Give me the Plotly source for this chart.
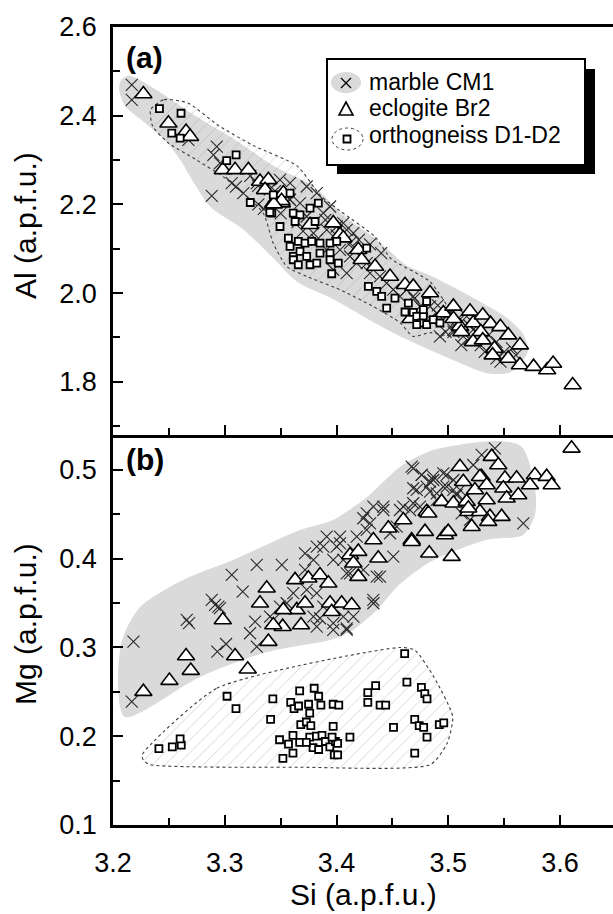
import plotly.graph_objects as go

# ---------------- data: panel (a) Si vs Al ----------------
si_marble_a = [3.2167,3.2167,3.2674,3.2928,3.2898,3.2957,3.3062,3.2883,3.3166,3.3286,3.3228,3.3298,3.3403,3.3438,3.3578,
               3.3494,3.3733,3.3584,3.3823,3.3584,3.3673,3.3733,3.3882,3.3942,3.3912,3.4002,3.4061,3.4091,3.4151,3.4031,
               3.4121,3.3912,3.3823,3.3793,3.4121,3.4210,3.4270,3.4180,3.3971,3.4091,3.4300,3.4389,3.4449,3.4508,3.4568,
               3.4628,3.4687,3.4747,3.4837,3.4897,3.4986,3.5076,3.5165,3.5224,3.5135,3.5046,3.4926,3.4697,3.4767,3.4907,
               3.5012,3.5082,3.5187,3.5256,3.5362,3.5432,3.5502,3.5432,3.5291,3.5187,3.5117,3.5047,3.4837,3.5571,3.5467,
               3.5327,3.5606,3.4977,3.4300,3.4400,3.4200,3.3350,3.3500,3.3650,3.3700,3.3450,3.4000,3.4150,3.3900,3.3300,3.3100]
al_marble_a = [2.4694,2.4356,2.3455,2.3304,2.3117,2.2930,2.2480,2.2194,2.2255,2.2480,2.2644,2.2419,2.2342,2.2194,2.2120,
               2.2554,2.2404,2.2480,2.2255,2.2104,2.2029,2.1728,2.1804,2.1953,2.1428,2.1502,2.1579,2.1428,2.1353,2.0977,
               2.1128,2.0977,2.1203,2.1353,2.0827,2.0827,2.0678,2.0678,2.0527,2.0453,2.0453,2.0376,2.0227,2.0077,1.9925,
               2.0077,1.9925,1.9700,1.9700,1.9551,1.9475,1.9401,1.9475,1.9176,1.9025,1.9176,1.9025,1.9874,1.9649,1.9725,
               1.9574,1.9349,1.9275,1.9126,1.9052,1.8901,1.8676,1.8527,1.8827,1.8975,1.8827,1.9126,1.9423,1.8752,1.8453,
               1.8676,1.8601,1.9126,2.1100,2.0900,2.1200,2.1900,2.1800,2.1600,2.1400,2.2300,2.1300,2.1000,2.1650,2.2000,2.2400]

si_eclogite_a = [3.2271,3.2495,3.2653,3.2689,3.2982,3.3092,3.3211,3.3315,3.3390,3.3360,3.3524,3.3510,3.3434,3.3763,3.3971,
                 3.4031,3.4061,3.4195,3.4225,3.4345,3.4479,3.4613,3.4687,3.4837,3.4956,3.5046,3.5195,3.5105,3.5224,3.5309,
                 3.5379,3.5467,3.5117,3.5291,3.5222,3.5309,3.5537,3.5642,3.5414,3.5537,3.5397,3.5642,3.5764,3.5886,3.5939,
                 3.6114,3.5047,3.4662,3.3508,3.3438]
al_eclogite_a = [2.4491,2.3831,2.3642,2.3529,2.2779,2.2779,2.2779,2.2516,2.2554,2.2329,2.2255,2.2029,2.2029,2.1541,2.1579,
                 2.1315,2.1241,2.0977,2.0752,2.0601,2.0376,2.0189,2.0151,2.0002,1.9551,1.9700,1.9588,1.9250,1.9326,1.9500,
                 1.9311,1.9239,1.9126,1.9126,1.8901,1.8939,1.9052,1.8827,1.8752,1.8527,1.8601,1.8378,1.8342,1.8266,1.8414,
                 1.7928,1.9423,1.9423,2.2081,2.2007]

si_ortho_a = [3.2415,3.2608,3.2525,3.2600,3.3017,3.3101,3.3434,3.3584,3.3837,3.3420,3.3494,3.3613,3.3673,3.3629,3.3763,
              3.3808,3.3569,3.3584,3.3658,3.3718,3.3778,3.3852,3.3942,3.4002,3.3613,3.3673,3.3733,3.3852,3.3942,3.3613,
              3.3658,3.3763,3.3823,3.3942,3.4016,3.3957,3.4270,3.4285,3.4360,3.4404,3.4523,3.4449,3.4643,3.4613,3.4687,
              3.4718,3.4777,3.4777,3.4763,3.4807,3.4866,3.4807,3.4718,3.4926,3.3228,3.3403]
al_ortho_a = [2.4160,2.4056,2.3606,2.3493,2.2989,2.3117,2.2216,2.2255,2.2029,2.1804,2.1502,2.1804,2.1766,2.1615,2.1916,
              2.1615,2.1241,2.1052,2.1165,2.1128,2.1165,2.1128,2.1128,2.1165,2.0827,2.0939,2.0827,2.0902,2.0902,2.0752,
              2.0640,2.0640,2.0678,2.0752,2.0678,2.0437,2.1015,2.0151,2.0038,1.9925,1.9888,1.9663,1.9776,1.9574,1.9565,
              1.9475,1.9475,1.9626,1.9326,1.9288,1.9401,1.9813,1.9288,1.9326,2.2043,2.1820]

# envelope outlines, panel (a)
env_grey_si_a = [3.2072,3.2143,3.2385,3.2738,3.3088,3.3438,3.3787,3.4067,3.4347,3.4488,3.4627,3.4837,3.5186,3.5535,3.5677,
                 3.5712,3.5570,3.5362,3.5012,3.4488,3.3962,3.3647,3.3438,3.3158,3.2877,3.2703,3.2598,3.2458,3.2248,3.2107,3.2054,3.2072]
env_grey_al_a = [2.4806,2.4903,2.4588,2.3995,2.3466,2.2869,2.2419,2.1743,2.1225,2.0921,2.0622,2.0399,1.9948,1.9423,1.9052,
                 1.8680,1.8230,1.8189,1.8527,1.9131,1.9874,2.0257,2.0775,2.1450,2.1932,2.2568,2.3016,2.3466,2.3914,2.4221,2.4588,2.4806]
env_ortho_si_a = [3.2336,3.2456,3.2668,3.2949,3.3262,3.3647,3.3858,3.4031,3.4345,3.4488,3.4837,3.5047,3.5012,3.4837,3.4685,
                  3.4568,3.4327,3.4031,3.3733,3.3554,3.3432,3.3342,3.3017,3.2738,3.2492,3.2353,3.2336]
env_ortho_al_a = [2.4140,2.4363,2.4288,2.3770,2.3320,2.2869,2.2194,2.1856,2.1270,2.0775,2.0257,1.9423,1.9052,1.9108,1.9025,
                  1.9333,1.9700,2.0077,2.0376,2.0601,2.1135,2.1811,2.2568,2.3016,2.3390,2.3770,2.4140]

# ---------------- data: panel (b) Si vs Mg ----------------
si_marble_b = [3.2182,3.2167,3.2680,3.2933,3.3011,3.3226,3.3286,3.3271,3.3434,3.3852,3.3971,3.4091,3.4151,3.4330,3.2913,
               3.2957,3.5418,3.5299,3.5224,3.4986,3.4866,3.4687,3.4763,3.4837,3.4687,3.4837,3.4956,3.5046,3.4897,3.5075,
               3.5135,3.5672,3.5120,3.5194,3.4747,3.4658,3.4568,3.4508,3.4508,3.4330,3.4419,3.4240,3.4270,3.4181,3.4031,
               3.3912,3.4001,3.4151,3.3823,3.3718,3.3793,3.3971,3.4121,3.4360,3.4329,3.3286,3.3510,3.3062,3.3160,3.2883,
               3.2942,3.2659,3.3405,3.3494,3.3554,3.3613,3.3733,3.3823,3.3793,3.3882,3.4061,3.4091,3.3718,3.3882,3.4031,
               3.4061,3.4091,3.4240,3.4300,3.4270,3.4419,3.4479,3.4539,3.4598,3.4687,3.4718,3.4807,3.4866,3.4897,3.4986,
               3.5046,3.5105,3.4956,3.4673,3.4762,3.4389,3.3823,3.3971]
mg_marble_b = [0.3066,0.2389,0.3273,0.2953,0.3039,0.3160,0.3009,0.3291,0.3310,0.3329,0.3273,0.3216,0.3347,0.3498,0.3479,
               0.3442,0.5244,0.5169,0.5056,0.4944,0.4925,0.5019,0.4944,0.4868,0.4794,0.4756,0.4812,0.4775,0.4662,0.4718,
               0.4662,0.4399,0.4512,0.4437,0.4587,0.4549,0.4549,0.4361,0.4023,0.4587,0.4549,0.4456,0.4324,0.4249,0.4249,
               0.4249,0.4136,0.4099,0.4136,0.4061,0.3986,0.3986,0.3836,0.3798,0.3535,0.3930,0.3930,0.3817,0.3629,0.3535,
               0.3460,0.3310,0.3347,0.3460,0.3498,0.3611,0.3648,0.3611,0.3347,0.3460,0.3347,0.3197,0.3873,0.4136,0.4174,
               0.3986,0.3836,0.3873,0.4399,0.4512,0.4587,0.4287,0.4361,0.4587,0.4625,0.4775,0.4812,0.4887,0.4737,0.4812,
               0.4887,0.4775,0.4962,0.5037,0.4944,0.3798,0.3234,0.3197]

si_eclogite_b = [3.2271,3.2504,3.2653,3.2695,3.2982,3.3092,3.3205,3.3390,3.3315,3.3518,3.3682,3.3375,3.3629,3.3644,3.3524,
                 3.3434,3.3748,3.3852,3.3718,3.3927,3.3942,3.3957,3.4046,3.4136,3.4121,3.4195,3.4151,3.4195,3.4330,3.4374,
                 3.4464,3.4598,3.4673,3.4792,3.4807,3.4830,3.4971,3.5000,3.5031,3.4941,3.5046,3.5105,3.5135,3.5165,3.5180,
                 3.5210,3.5284,3.5299,3.5239,3.5344,3.6104,3.5389,3.5448,3.5284,3.5344,3.5508,3.5612,3.5493,3.5523,3.5627,
                 3.5776,3.5881,3.5732,3.5926,3.5374,3.5478,3.5358,3.5180,3.4673,3.4822]
mg_eclogite_b = [0.2502,0.2626,0.2904,0.2739,0.3310,0.2904,0.2754,0.3066,0.3498,0.3234,0.3253,0.3667,0.3761,0.3423,0.3423,
                 0.3253,0.3780,0.3817,0.3498,0.3723,0.3498,0.3403,0.3498,0.3479,0.4042,0.4080,0.3949,0.3798,0.4211,0.4005,
                 0.4343,0.4437,0.4211,0.4305,0.4530,0.4061,0.4268,0.4305,0.4023,0.4643,0.4625,0.5037,0.4868,0.4643,0.4530,
                 0.4361,0.4530,0.4924,0.4775,0.4662,0.5244,0.5150,0.5056,0.4924,0.4831,0.4906,0.4906,0.4794,0.4681,0.4718,
                 0.4944,0.4925,0.4831,0.4831,0.4474,0.4474,0.4418,0.4568,0.4192,0.4512]

si_ortho_b = [3.241,3.253,3.261,3.260,3.302,3.310,3.341,3.343,3.367,3.380,3.384,3.359,3.362,3.366,3.375,3.386,3.397,3.402,
              3.376,3.368,3.373,3.377,3.397,3.349,3.357,3.361,3.367,3.361,3.352,3.376,3.379,3.384,3.382,3.387,3.390,3.394,
              3.399,3.401,3.396,3.398,3.401,3.373,3.412,3.428,3.435,3.428,3.439,3.444,3.451,3.461,3.463,3.476,3.479,3.481,
              3.470,3.474,3.478,3.481,3.470,3.492,3.496]
mg_ortho_b = [0.186,0.188,0.190,0.197,0.245,0.231,0.219,0.242,0.251,0.254,0.245,0.238,0.231,0.234,0.236,0.235,0.236,0.235,
              0.226,0.213,0.216,0.212,0.211,0.196,0.191,0.201,0.193,0.181,0.175,0.199,0.187,0.185,0.200,0.201,0.194,0.188,
              0.194,0.192,0.199,0.179,0.179,0.193,0.199,0.249,0.257,0.238,0.235,0.235,0.210,0.293,0.261,0.255,0.248,0.242,
              0.219,0.212,0.210,0.199,0.181,0.213,0.215]

# envelope outlines, panel (b)
env_grey_si_b = [3.2107,3.2779,3.3378,3.3942,3.4121,3.4362,3.4541,3.4837,3.5338,3.5669,3.5776,3.5776,3.5660,3.5463,3.4864,
                 3.4568,3.4273,3.3969,3.3673,3.3074,3.2626,3.2242,3.2081,3.2045,3.2107]
env_grey_mg_b = [0.2217,0.2668,0.2949,0.3085,0.3175,0.3423,0.3682,0.3963,0.4211,0.4268,0.4493,0.4808,0.5259,0.5327,0.5225,
                 0.5034,0.4696,0.4437,0.4324,0.3986,0.3761,0.3456,0.3085,0.2521,0.2217]
env_ortho_si_b = [3.226,3.293,3.457,3.470,3.487,3.504,3.499,3.484,3.367,3.233,3.227,3.226]
env_ortho_mg_b = [0.179,0.254,0.300,0.297,0.267,0.222,0.192,0.168,0.165,0.168,0.173,0.179]

x_ticks = [3.2, 3.3, 3.4, 3.5, 3.6]
x_ticklabels = ["3.2", "3.3", "3.4", "3.5", "3.6"]
al_ticks = [1.8, 2.0, 2.2, 2.4, 2.6]
al_ticklabels = ["1.8", "2.0", "2.2", "2.4", "2.6"]
mg_ticks = [0.1, 0.2, 0.3, 0.4, 0.5]
mg_ticklabels = ["0.1", "0.2", "0.3", "0.4", "0.5"]
series_names = ["marble CM1", "eclogite Br2", "orthogneiss D1-D2"]

# ---------------- figure ----------------
FONT = "Liberation Sans, Arial, Helvetica, sans-serif"
GREY = "rgb(218,218,218)"
W, H, ML, MT, MB = 613, 914, 113, 27, 89
PW, PH = W - ML, H - MT - MB


def px(x):  # pixel -> paper x
    return (x - ML) / PW


def py(y):  # pixel -> paper y
    return (H - MB - y) / PH


fig = go.Figure()


def envelope(xs, ys, xa, ya, kind):
    if kind == "grey":
        fig.add_trace(go.Scatter(x=xs, y=ys, xaxis=xa, yaxis=ya, mode="lines",
                                 line=dict(width=0, shape="spline", smoothing=0.8),
                                 fill="toself", fillcolor=GREY, showlegend=False, hoverinfo="skip"))
    else:
        fig.add_trace(go.Scatter(x=xs, y=ys, xaxis=xa, yaxis=ya, mode="lines",
                                 line=dict(width=1.1, color="rgb(60,60,60)", dash="dot", shape="spline", smoothing=0.6),
                                 fill="toself", fillcolor="rgba(0,0,0,0)",
                                 fillpattern=dict(shape="/", fgcolor="rgb(150,150,150)", bgcolor="rgba(255,255,255,0)",
                                                  size=9, solidity=0.08),
                                 showlegend=False, hoverinfo="skip"))


envelope(env_grey_si_a, env_grey_al_a, "x", "y", "grey")
envelope(env_ortho_si_a, env_ortho_al_a, "x", "y", "ortho")
envelope(env_grey_si_b, env_grey_mg_b, "x2", "y2", "grey")
envelope(env_ortho_si_b, env_ortho_mg_b, "x2", "y2", "ortho")

mk_x = dict(symbol="x-thin-open", size=12, line=dict(width=1.1, color="rgb(40,40,40)"), color="rgb(40,40,40)")
mk_t = dict(symbol="triangle-up", size=15, color="white", line=dict(width=1.6, color="black"))
mk_s = dict(symbol="square", size=7, color="white", line=dict(width=1.8, color="black"))

for (xa, ya, sx, sy) in [("x", "y", si_marble_a, al_marble_a), ("x2", "y2", si_marble_b, mg_marble_b)]:
    fig.add_trace(go.Scatter(x=sx, y=sy, xaxis=xa, yaxis=ya, mode="markers", marker=mk_x,
                             name=series_names[0], showlegend=False))
for (xa, ya, sx, sy) in [("x", "y", si_eclogite_a, al_eclogite_a), ("x2", "y2", si_eclogite_b, mg_eclogite_b)]:
    fig.add_trace(go.Scatter(x=sx, y=sy, xaxis=xa, yaxis=ya, mode="markers", marker=mk_t,
                             name=series_names[1], showlegend=False))
for (xa, ya, sx, sy) in [("x", "y", si_ortho_a, al_ortho_a), ("x2", "y2", si_ortho_b, mg_ortho_b)]:
    fig.add_trace(go.Scatter(x=sx, y=sy, xaxis=xa, yaxis=ya, mode="markers", marker=mk_s,
                             name=series_names[2], showlegend=False))

LW = 2.5
tickfont = dict(family=FONT, size=27, color="black")
common_x = dict(range=[3.1999, 3.6475], tickvals=x_ticks, ticktext=x_ticklabels, ticks="inside", ticklen=10, tickwidth=1.5,
                tickcolor="black", showline=True, linewidth=LW, linecolor="black", showgrid=False, zeroline=False,
                minor=dict(dtick=0.05, tick0=3.2, ticks="inside", ticklen=7, tickwidth=1.5, tickcolor="black"))
fig.update_layout(
    width=W, height=H,
    margin=dict(l=ML, r=0, t=MT, b=MB),
    paper_bgcolor="white", plot_bgcolor="white",
    font=dict(family=FONT, color="black"),
    showlegend=False,
    xaxis=dict(common_x, domain=[0, 1], anchor="y", showticklabels=False, mirror=True),
    xaxis2=dict(common_x, domain=[0, 1], anchor="y2", showticklabels=True, tickfont=tickfont, ticklabelstandoff=12),
    yaxis=dict(domain=[0.4887, 1], range=[1.68, 2.6001], tickvals=al_ticks, ticktext=al_ticklabels, ticks="inside",
               ticklen=10, tickwidth=1.5, tickcolor="black", showline=True, linewidth=LW, linecolor="black",
               showgrid=False, zeroline=False, tickfont=tickfont, ticklabelstandoff=8,
               minor=dict(dtick=0.1, tick0=1.7, ticks="inside", ticklen=7, tickwidth=1.5, tickcolor="black")),
    yaxis2=dict(domain=[0, 0.4887], range=[0.0999, 0.5394], tickvals=mg_ticks, ticktext=mg_ticklabels, ticks="inside",
                ticklen=10, tickwidth=1.5, tickcolor="black", showline=True, linewidth=LW, linecolor="black",
                showgrid=False, zeroline=False, tickfont=tickfont, ticklabelstandoff=8,
                minor=dict(dtick=0.05, tick0=0.1, ticks="inside", ticklen=7, tickwidth=1.5, tickcolor="black")),
)

# ---------- legend box (drawn by hand, with drop shadow) ----------
fig.add_shape(type="rect", xref="paper", yref="paper", x0=px(337), x1=px(595), y0=py(174), y1=py(69),
              fillcolor="black", line=dict(width=0), layer="above")
fig.add_shape(type="rect", xref="paper", yref="paper", x0=px(327), x1=px(585), y0=py(165), y1=py(59),
              fillcolor="white", line=dict(width=2, color="black"), layer="above")
# glyph backgrounds: grey ellipse (marble) and dotted ellipse (orthogneiss)
fig.add_shape(type="circle", xref="paper", yref="paper", x0=px(331), x1=px(361), y0=py(93), y1=py(72),
              fillcolor=GREY, line=dict(width=0), layer="above")
fig.add_shape(type="circle", xref="paper", yref="paper", x0=px(332), x1=px(363), y0=py(150), y1=py(128),
              fillcolor="rgba(0,0,0,0)", line=dict(width=1, color="rgb(60,60,60)", dash="dot"), layer="above")
# glyphs: cross, triangle, square
cx, r = 346, 5
fig.add_shape(type="line", xref="paper", yref="paper", x0=px(cx - r), x1=px(cx + r), y0=py(83 - r), y1=py(83 + r),
              line=dict(width=1.3, color="black"), layer="above")
fig.add_shape(type="line", xref="paper", yref="paper", x0=px(cx - r), x1=px(cx + r), y0=py(83 + r), y1=py(83 - r),
              line=dict(width=1.3, color="black"), layer="above")
tri = "M {:.5f} {:.5f} L {:.5f} {:.5f} L {:.5f} {:.5f} Z".format(px(339), py(115), px(353), py(115), px(346), py(102))
fig.add_shape(type="path", xref="paper", yref="paper", path=tri, fillcolor="white",
              line=dict(width=1.6, color="black"), layer="above")
fig.add_shape(type="rect", xref="paper", yref="paper", x0=px(343.5), x1=px(350.5), y0=py(142.5), y1=py(135.5),
              fillcolor="white", line=dict(width=1.8, color="black"), layer="above")

leg_font = dict(family=FONT, size=23, color="black")
for name, yy in zip(series_names, [82, 108, 135]):
    fig.add_annotation(text=name, xref="paper", yref="paper", x=px(367), y=py(yy), showarrow=False,
                       font=leg_font, xanchor="left", yanchor="middle")

ann_font = dict(family=FONT, size=30, color="black")
fig.add_annotation(text="Al (a.p.f.u.)", xref="paper", yref="paper", x=px(25), y=py(226), textangle=-90,
                   showarrow=False, font=ann_font, xanchor="center", yanchor="middle")
fig.add_annotation(text="Mg (a.p.f.u.)", xref="paper", yref="paper", x=px(25), y=py(624), textangle=-90,
                   showarrow=False, font=ann_font, xanchor="center", yanchor="middle")
fig.add_annotation(text="Si (a.p.f.u.)", xref="paper", yref="paper", x=0.5, y=py(894),
                   showarrow=False, font=ann_font, xanchor="center", yanchor="middle")
fig.add_annotation(text="<b>(a)</b>", xref="paper", yref="paper", x=px(124), y=py(57),
                   showarrow=False, font=dict(family=FONT, size=30, color="black"), xanchor="left", yanchor="middle")
fig.add_annotation(text="<b>(b)</b>", xref="paper", yref="paper", x=px(124), y=py(460),
                   showarrow=False, font=dict(family=FONT, size=30, color="black"), xanchor="left", yanchor="middle")

fig.write_html("out.html")
